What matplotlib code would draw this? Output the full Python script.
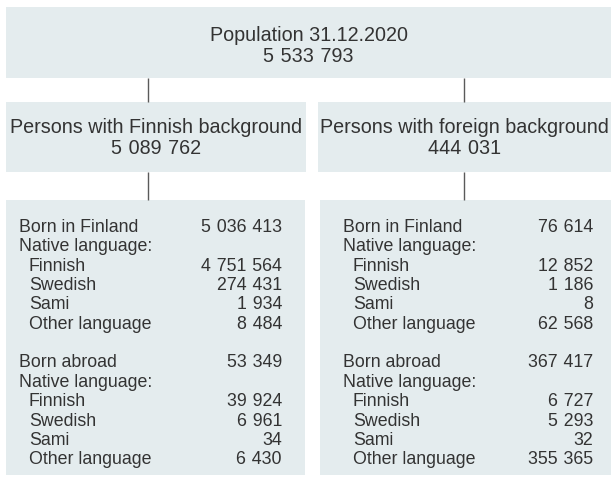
import matplotlib
matplotlib.use("Agg")
import matplotlib.pyplot as plt
from matplotlib.patches import Rectangle

# ---- data ----
total_label = "Population 31.12.2020"
total_value = 5533793
group_labels = ["Persons with Finnish background", "Persons with foreign background"]
group_values = [5089762, 444031]
birth_labels = ["Born in Finland", "Born abroad"]
language_header = "Native language:"
language_labels = ["Finnish", "Swedish", "Sami", "Other language"]
# [group][birth] totals
birth_totals = [[5036413, 53349], [76614, 367417]]
# [group][birth][language]
language_values = [
    [[4751564, 274431, 1934, 8484], [39924, 6961, 34, 6430]],
    [[12852, 1186, 8, 62568], [6727, 5293, 32, 355365]],
]

# ---- style ----
BOX = "#E4ECEE"
TXT = "#333333"
LINE = "#5a5a5a"
FAM = ["Liberation Sans", "DejaVu Sans"]
BIG = 14.2
SMALL = 12.8
W, H = 611, 479


def fmt(v):
    return f"{v:,}".replace(",", "\u2004")


fig = plt.figure(figsize=(W / 100, H / 100), dpi=100)
ax = fig.add_axes([0, 0, 1, 1])
ax.set_xlim(0, W)
ax.set_ylim(H, 0)
ax.axis("off")


def box(x0, y0, x1, y1):
    ax.add_patch(Rectangle((x0, y0), x1 - x0, y1 - y0, facecolor=BOX, edgecolor="none"))


def vline(x, y0, y1):
    ax.plot([x, x], [y0, y1], color=LINE, lw=1.0, solid_capstyle="butt")


# top box
box(6, 7, 611, 78)
ax.text(308.5, 40.5, total_label, ha="center", va="baseline", fontsize=BIG, color=TXT, family=FAM)
ax.text(308.5, 61.5, fmt(total_value), ha="center", va="baseline", fontsize=BIG, color=TXT, family=FAM)

# connectors
conn_x = [148, 464]
for cx in conn_x:
    vline(cx, 78, 102)
    vline(cx, 172, 200)

# middle boxes
mid_boxes = [(6, 306), (318, 611)]
for (x0, x1), lab, val in zip(mid_boxes, group_labels, group_values):
    box(x0, 102, x1, 172)
    cx = (x0 + x1) / 2
    ax.text(cx, 133, lab, ha="center", va="baseline", fontsize=BIG, color=TXT, family=FAM)
    ax.text(cx, 154, fmt(val), ha="center", va="baseline", fontsize=BIG, color=TXT, family=FAM)

# bottom boxes
bot_boxes = [(6, 305), (320, 611)]
label_x = [19, 343]
value_x = [282, 593]
indent = 10
y_start = 232
step = 19.35
for g, (x0, x1) in enumerate(bot_boxes):
    box(x0, 200, x1, 475)
    row = 0
    for b, blab in enumerate(birth_labels):
        y = y_start + row * step
        ax.text(label_x[g], y, blab, ha="left", va="baseline", fontsize=SMALL, color=TXT, family=FAM)
        ax.text(value_x[g], y, fmt(birth_totals[g][b]), ha="right", va="baseline", fontsize=SMALL, color=TXT, family=FAM)
        row += 1
        y = y_start + row * step
        ax.text(label_x[g], y, language_header, ha="left", va="baseline", fontsize=SMALL, color=TXT, family=FAM)
        row += 1
        for l, llab in enumerate(language_labels):
            y = y_start + row * step
            ax.text(label_x[g] + indent, y, llab, ha="left", va="baseline", fontsize=SMALL, color=TXT, family=FAM)
            ax.text(value_x[g], y, fmt(language_values[g][b][l]), ha="right", va="baseline", fontsize=SMALL, color=TXT, family=FAM)
            row += 1
        row += 1

fig.savefig("out.png", dpi=100)
